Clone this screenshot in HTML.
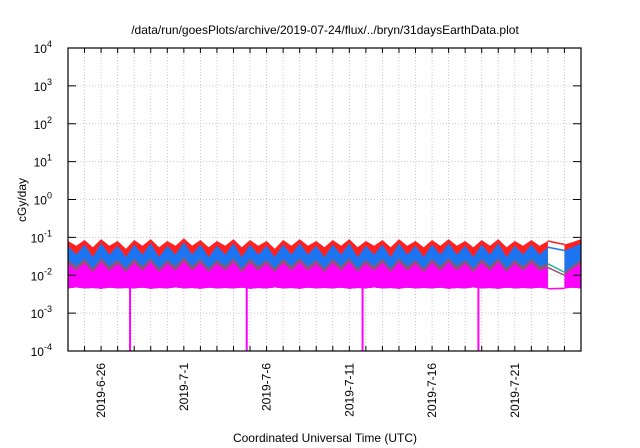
<!DOCTYPE html>
<html><head><meta charset="utf-8"><style>
html,body{margin:0;padding:0;background:#fff}
svg{display:block;font-family:"Liberation Sans",sans-serif}
</style></head><body>
<svg id="chart" width="640" height="448" viewBox="0 0 640 448">
<text x="325" y="34" text-anchor="middle" font-size="12">/data/run/goesPlots/archive/2019-07-24/flux/../bryn/31daysEarthData.plot</text>
<g id="grid"></g><g id="series"></g><g id="axes"></g>
<text transform="translate(26,200) rotate(-90)" text-anchor="middle" font-size="12">cGy/day</text>
<text x="325" y="442" text-anchor="middle" font-size="12">Coordinated Universal Time (UTC)</text>
</svg>
<script>
const yExponents=[-4,-3,-2,-1,0,1,2,3,4];
const xLabels=["2019-6-26","2019-7-1","2019-7-6","2019-7-11","2019-7-16","2019-7-21"];
const xLabelDays=[2,7,12,17,22,27];
const totalDays=31;
const gapStart=29.0, gapEnd=29.9;
const spikeDays=[3.75,10.8,17.8,24.8];
const red=[0.08,0.06,0.085,0.055,0.09,0.06,0.08,0.05,0.085,0.06,0.09,0.055,0.08,0.06,0.095,0.06,0.085,0.055,0.08,0.06,0.09,0.055,0.085,0.06,0.08,0.05,0.085,0.06,0.09,0.06,0.08,0.055,0.085,0.06,0.09,0.055,0.08,0.06,0.085,0.055,0.09,0.06,0.08,0.055,0.085,0.06,0.09,0.06,0.08,0.055,0.085,0.06,0.09,0.055,0.08,0.06,0.085,0.06,0.08,0.06,0.065,0.075,0.09];
const blue=[0.06,0.035,0.065,0.03,0.07,0.035,0.06,0.03,0.065,0.035,0.07,0.03,0.06,0.035,0.075,0.035,0.065,0.03,0.06,0.035,0.07,0.03,0.065,0.035,0.06,0.03,0.065,0.035,0.07,0.035,0.06,0.03,0.065,0.035,0.07,0.03,0.06,0.035,0.065,0.03,0.07,0.035,0.06,0.03,0.065,0.035,0.07,0.035,0.06,0.03,0.065,0.035,0.07,0.03,0.06,0.035,0.065,0.035,0.055,0.05,0.045,0.055,0.07];
const green=[0.025,0.017,0.027,0.015,0.028,0.017,0.025,0.015,0.027,0.017,0.028,0.015,0.025,0.017,0.03,0.017,0.027,0.015,0.025,0.017,0.028,0.015,0.027,0.017,0.025,0.015,0.027,0.017,0.028,0.017,0.025,0.015,0.027,0.017,0.028,0.015,0.025,0.017,0.027,0.015,0.028,0.017,0.025,0.015,0.027,0.017,0.028,0.017,0.025,0.015,0.027,0.017,0.028,0.015,0.025,0.017,0.027,0.017,0.02,0.015,0.012,0.018,0.025];
const magHigh=[0.02,0.013,0.021,0.012,0.022,0.013,0.02,0.012,0.021,0.013,0.022,0.012,0.02,0.013,0.023,0.013,0.021,0.012,0.02,0.013,0.022,0.012,0.021,0.013,0.02,0.012,0.021,0.013,0.022,0.013,0.02,0.012,0.021,0.013,0.022,0.012,0.02,0.013,0.021,0.012,0.022,0.013,0.02,0.012,0.021,0.013,0.022,0.013,0.02,0.012,0.021,0.013,0.022,0.012,0.02,0.013,0.021,0.013,0.016,0.012,0.01,0.015,0.02];
const magLow=[0.0045,0.0048,0.0045,0.0046,0.0044,0.0047,0.0045,0.0046,0.0045,0.0047,0.0044,0.0046,0.0045,0.0048,0.0045,0.0046,0.0044,0.0047,0.0045,0.0046,0.0045,0.0047,0.0044,0.0046,0.0045,0.0048,0.0045,0.0046,0.0044,0.0047,0.0045,0.0046,0.0045,0.0047,0.0044,0.0046,0.0045,0.0048,0.0045,0.0046,0.0044,0.0047,0.0045,0.0046,0.0045,0.0047,0.0044,0.0046,0.0045,0.0048,0.0045,0.0046,0.0044,0.0047,0.0045,0.0046,0.0045,0.0047,0.0044,0.0046,0.0045,0.0047,0.0045];
const step=0.5;
const L=68,R=581,T=48,B=351;
const NS="http://www.w3.org/2000/svg";
function xs(d){return L+(d/totalDays)*(R-L);}
function ys(v){return B-(Math.log10(v)+4)/8*(B-T);}
function mk(tag,attrs,parent){const e=document.createElementNS(NS,tag);for(const k in attrs)e.setAttribute(k,attrs[k]);parent.appendChild(e);return e;}
const grid=document.getElementById('grid'),axes=document.getElementById('axes'),ser=document.getElementById('series');
for(let d=1;d<totalDays;d++){
  const g=mk('line',{x1:xs(d),x2:xs(d),y1:T,y2:B,stroke:'#bbb','stroke-dasharray':'1,2','stroke-width':0.8},grid);
  
  
  const t=mk('line',{x1:xs(d),x2:xs(d),y1:B,y2:B-5,stroke:'#000'},axes);
  
  
  const t2=mk('line',{x1:xs(d),x2:xs(d),y1:T,y2:T+5,stroke:'#000'},axes);
  
  
}
yExponents.forEach(e=>{
  const y=ys(Math.pow(10,e));
  if(e>-4&&e<4){const g=mk('line',{x1:L,x2:R,y1:y,y2:y,stroke:'#bbb','stroke-dasharray':'1,2','stroke-width':0.8},grid);
  
  }
  const t=mk('line',{x1:L,x2:L+8,y1:y,y2:y,stroke:'#000'},axes);
  
  
  const t2=mk('line',{x1:R,x2:R-8,y1:y,y2:y,stroke:'#000'},axes);
  
  
  const tx=mk('text',{x:52,y:y+5,'text-anchor':'end','font-size':12},axes);
  
  
  tx.innerHTML='10<tspan dy="-6" font-size="9">'+e+'</tspan>';
});
xLabels.forEach((s,i)=>{
  const x=xs(xLabelDays[i]);
  const tx=mk('text',{transform:`translate(${x+4},${B+12}) rotate(-90)`,'text-anchor':'end','font-size':12},axes);
  
  
  tx.textContent=s;
});
const fr=mk('rect',{x:L,y:T,width:R-L,height:B-T,fill:'none',stroke:'#000','stroke-width':1.2},axes);


function segs(){const a=[],b=[];for(let i=0;i<red.length;i++){const d=i*step;if(d<=gapStart)a.push(i);else if(d>=gapEnd)b.push(i);}return [a,b];}
const [segA,segB]=segs();
function area(top,bot,idx,color,name){
  let p=idx.map(i=>xs(i*step)+','+ys(top[i])).join(' ');
  p+=' '+idx.slice().reverse().map(i=>xs(i*step)+','+ys(bot[i])).join(' ');
  const e=mk('polygon',{points:p,fill:color},ser);
  
  
}
const layers=[[red,magLow,'#ff2020','red-series'],[blue,magLow,'#1c74f0','blue-series'],[green,magLow,'#1fb89a','green-series'],[green,magHigh,'#9a4f7a','purple-series'],[magHigh,magLow,'#ff00ff','magenta-series']];
layers.forEach(l=>{area(l[0],l[1],segA,l[2],l[3]);area(l[0],l[1],segB,l[2],l[3]);});
const ia=segA[segA.length-1],ib=segB[0];
[[red,'#ff2020'],[blue,'#1c74f0'],[green,'#1fb89a'],[magHigh,'#9a4f7a'],[magLow,'#ffd000'],[magLow,'#ff00ff']].forEach(s=>{
  const e=mk('line',{x1:xs(ia*step),y1:ys(s[0][ia]),x2:xs(ib*step),y2:ys(s[0][ib]),stroke:s[1],'stroke-width':1.5},ser);
  
  
});
spikeDays.forEach(d=>{
  const e=mk('line',{x1:xs(d),x2:xs(d),y1:ys(0.005),y2:B,stroke:'#ff00ff','stroke-width':2},ser);
  
  
});
</script>
</body></html>
